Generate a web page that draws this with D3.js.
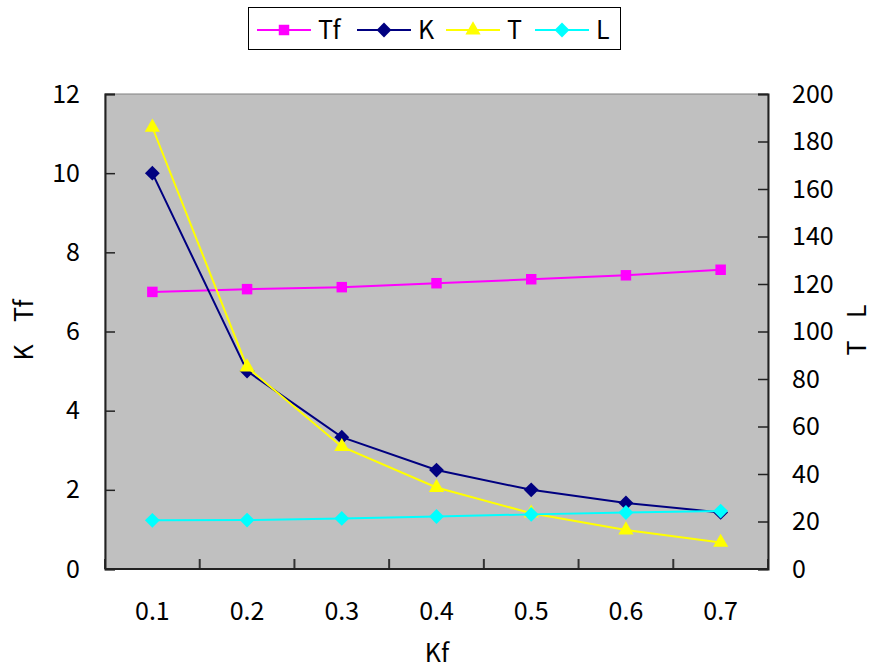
<!DOCTYPE html>
<html><head><meta charset="utf-8">
<script src="https://cdn.jsdelivr.net/npm/d3@7"></script>
<style>body{margin:0;background:#fff;} text{font-family:"Noto Sans CJK JP","Liberation Sans",sans-serif;}</style>
</head><body>
<svg id="c" width="872" height="668"></svg>
<script>
const categories = ["0.1","0.2","0.3","0.4","0.5","0.6","0.7"];
const tfValues = [7.0, 7.07, 7.12, 7.22, 7.32, 7.42, 7.56];
const kValues = [10, 5.0, 3.33, 2.5, 2.0, 1.67, 1.43];
const tValues = [186, 85, 51.5, 34.3, 23.5, 16.4, 11.2];
const lValues = [20.5, 20.6, 21.3, 22.1, 23.0, 23.8, 24.4];
const leftTicks = [0,2,4,6,8,10,12];
const rightTicks = [0,20,40,60,80,100,120,140,160,180,200];

const svg = d3.select("#c");
const L = 105, R = 768, T = 94, B = 569;
const x = d3.scaleBand().domain(categories).range([L, R]);
const yL = d3.scaleLinear().domain([0, 12]).range([B, T]);
const yR = d3.scaleLinear().domain([0, 200]).range([B, T]);
const cx = c => x(c) + x.bandwidth() / 2;

svg.append("rect").attr("x", L).attr("y", T).attr("width", R - L).attr("height", B - T)
  .attr("fill", "#c0c0c0").attr("stroke", "#808080").attr("stroke-width", 1);

const edges = categories.map(c => x(c)).concat([R]);
svg.append("g").selectAll("line").data(edges).join("line")
  .attr("x1", d => d).attr("x2", d => d).attr("y1", B).attr("y2", B - 10)
  .attr("stroke", "#333").attr("stroke-width", 2);

const fs = "25px";
const gl = svg.append("g").attr("transform", `translate(${L},0)`)
  .call(d3.axisLeft(yL).tickValues(leftTicks).tickSize(-10).tickPadding(25).tickFormat(d3.format("d")));
const gr = svg.append("g").attr("transform", `translate(${R},0)`)
  .call(d3.axisRight(yR).tickValues(rightTicks).tickSize(-10).tickPadding(24).tickFormat(d3.format("d")));
const gb = svg.append("g").attr("transform", `translate(0,${B})`)
  .call(d3.axisBottom(x).tickSize(0).tickPadding(33));
[gl, gr, gb].forEach(g => {
  g.selectAll("path.domain").attr("stroke", "#222").attr("stroke-width", 2);
  g.selectAll(".tick line").attr("stroke", "#222").attr("stroke-width", 1.5);
  g.selectAll("text").attr("font-size", fs).attr("fill", "#000")
   .style("font-family", '"Noto Sans CJK JP","Liberation Sans",sans-serif');
});
gb.select("path.domain").attr("d", `M${L},0H${R}`);

const diamond = { draw(ctx, size) { const r = Math.sqrt(size / 2); ctx.moveTo(0, -r); ctx.lineTo(r, 0); ctx.lineTo(0, r); ctx.lineTo(-r, 0); ctx.closePath(); } };
function sym(type, size) { return d3.symbol().type(type).size(size)(); }
const series = [
  {name: "Tf", vals: tfValues, y: yL, color: "#ff00ff", sym: d3.symbolSquare, size: 110},
  {name: "K", vals: kValues, y: yL, color: "#000080", sym: diamond, size: 110},
  {name: "T", vals: tValues, y: yR, color: "#ffff00", sym: d3.symbolTriangle, size: 100},
  {name: "L", vals: lValues, y: yR, color: "#00ffff", sym: diamond, size: 110}
];
series.forEach(s => {
  const pts = categories.map((c, i) => [cx(c), s.y(s.vals[i])]);
  svg.append("path").attr("d", d3.line()(pts)).attr("fill", "none")
    .attr("stroke", s.color).attr("stroke-width", 2);
  svg.append("g").selectAll("path").data(pts).join("path")
    .attr("transform", d => `translate(${d[0]},${d[1]})`)
    .attr("d", sym(s.sym, s.size)).attr("fill", s.color);
});

svg.append("text").attr("transform", "translate(33,330) rotate(-90)").attr("text-anchor", "middle")
  .attr("font-size", fs).text("K\u00a0\u00a0\u00a0\u00a0Tf");
svg.append("text").attr("transform", "translate(866,330) rotate(-90)").attr("text-anchor", "middle")
  .attr("font-size", fs).text("T\u00a0\u00a0\u00a0\u00a0L");
svg.append("text").attr("x", 437).attr("y", 662).attr("text-anchor", "middle")
  .attr("font-size", fs).text("Kf");

const lg = svg.append("g");
lg.append("rect").attr("x", 248.5).attr("y", 7.5).attr("width", 372).attr("height", 42)
  .attr("fill", "#fff").attr("stroke", "#000").attr("stroke-width", 1);
const lx = [257, 357, 446, 535];
series.forEach((s, i) => {
  const x0 = lx[i], ly = 30;
  lg.append("line").attr("x1", x0).attr("x2", x0 + 54).attr("y1", ly).attr("y2", ly)
    .attr("stroke", s.color).attr("stroke-width", 2);
  lg.append("path").attr("transform", `translate(${x0 + 27},${ly})`).attr("d", sym(s.sym, s.size)).attr("fill", s.color);
  lg.append("text").attr("x", x0 + 61).attr("y", ly + 9).attr("font-size", fs).text(s.name);
});
</script>
</body></html>
